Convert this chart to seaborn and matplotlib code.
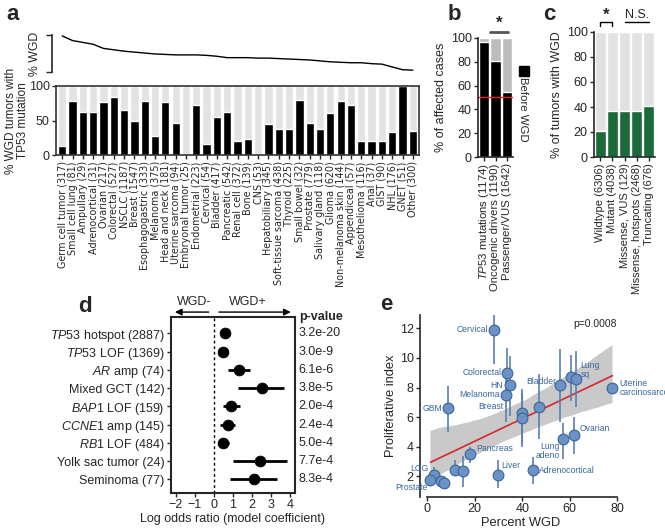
import matplotlib
matplotlib.use("Agg")
import matplotlib.pyplot as plt
import numpy as np
import pandas as pd
import seaborn as sns

# ---- panel a: TP53 mutation rate in WGD tumors, sorted by % WGD
tumor_types = ["Germ cell tumor (317)", "Small cell lung (81)", "Ampullary (29)", "Adrenocortical (31)",
               "Ovarian (217)", "Colorectal (527)", "NSCLC (1187)", "Breast (1547)", "Esophagogastric (333)",
               "Melanoma (375)", "Head and neck (181)", "Uterine sarcoma (94)", "Embryonal tumor (25)",
               "Endometrial (223)", "Cervical (54)", "Bladder (417)", "Pancreatic (542)", "Renal cell (372)",
               "Bone (139)", "CNS (53)", "Hepatobiliary (345)", "Soft-tissue sarcoma (438)", "Thyroid (225)",
               "Small bowel (32)", "Prostate (779)", "Salivary gland (118)", "Glioma (620)",
               "Non-melanoma skin (144)", "Appendiceal (57)", "Mesothelioma (116)", "Anal (37)", "GIST (90)",
               "NHL (176)", "GNET (51)", "Other (300)"]
wgd_pct = [78, 68, 64, 60, 51, 48, 45, 43, 41, 39, 38, 37, 37, 37, 36, 34, 31, 31, 31, 30,
           30, 29, 28, 27, 26, 24, 22, 21, 20, 20, 18, 17, 11, 5, 4]
tp53_in_wgd = [13, 78, 63, 63, 77, 84, 65, 50, 78, 27, 77, 47, 0, 73, 16, 55, 63, 20, 23, 0,
               45, 37, 37, 80, 46, 38, 61, 78, 72, 20, 21, 20, 34, 100, 35]

# ---- panel b: timing of mutations relative to WGD
b_labels = [r"$\it{TP53}$ mutations (1174)", "Oncogenic drivers (1190)", "Passenger/VUS (1642)"]
b_before = [97, 81, 55]

# ---- panel c: WGD rate by TP53 status
c_labels = ["Wildtype (6306)", "Mutant (4038)", "Missense, VUS (129)",
            "Missense, hotspots (2468)", "Truncating (676)"]
c_wgd = [21, 37, 36.5, 37, 40.5]

# ---- panel d: regression coefficients
d_labels = [r"$\it{TP53}$ hotspot (2887)", r"$\it{TP53}$ LOF (1369)", r"$\it{AR}$ amp (74)",
            "Mixed GCT (142)", r"$\it{BAP1}$ LOF (159)", r"$\it{CCNE1}$ amp (145)",
            r"$\it{RB1}$ LOF (484)", "Yolk sac tumor (24)", "Seminoma (77)"]
d_coef = [0.6, 0.46, 1.33, 2.53, 0.91, 0.74, 0.47, 2.44, 2.12]
d_lo = [0.52, 0.38, 0.74, 1.3, 0.5, 0.33, 0.3, 1.0, 0.86]
d_hi = [0.68, 0.54, 1.91, 3.7, 1.39, 1.14, 0.79, 3.88, 3.35]
d_pvals = ["3.2e-20", "3.0e-9", "6.1e-6", "3.8e-5", "2.0e-4", "2.4e-4", "5.0e-4", "7.7e-4", "8.3e-4"]

# ---- panel e: proliferation vs WGD per tumor type
e_names = ["Cervical", "Colorectal", "HN", "Melanoma", "GBM", "Breast", "", "", "Bladder", "",
           "Lung\nsq", "Uterine\ncarcinosarcoma", "Ovarian", "Lung\nadeno", "Adrenocortical", "Liver",
           "Pancreas", "", "", "LGG", "Prostate", "", ""]
e_wgd = [28, 33.6, 35, 33, 8.7, 40, 40, 47, 56, 60.4, 62.5, 78, 62, 57.3, 44.5, 29.7, 18.2, 11.6, 15.1,
         2.8, 1.4, 6, 7]
e_prolif = [11.9, 9.0, 8.15, 7.5, 6.6, 6.3, 5.95, 6.7, 8.15, 8.7, 8.6, 8.0, 4.8, 4.5, 2.4, 2.1, 3.5,
            2.4, 2.35, 2.1, 1.75, 1.7, 1.55]
e_lo = [9.6, 7.1, 6.1, 5.7, 5.0, 4.2, 4.0, 4.5, 5.7, 7.1, 6.7, 7.9, 3.5, 3.2, 1.5, 1.2, 2.9, 2.0, 1.3,
        1.7, 1.5, 1.4, 1.2]
e_hi = [13.5, 10.7, 10.1, 8.6, 8.1, 7.9, 7.6, 8.9, 10.6, 10.2, 10.5, 8.1, 6.0, 5.6, 3.3, 3.1, 4.0, 3.1,
        3.4, 2.6, 2.0, 2.0, 1.9]

# label placement for panel e (offset from point, alignment)
e_label_pos = {"Cervical": (-2.4, 0, "right"), "Colorectal": (-2.1, 0, "right"), "HN": (-3.1, 0, "right"),
               "Melanoma": (-2.5, 0, "right"), "GBM": (-2.3, 0, "right"), "Breast": (-8.1, 0.4, "right"),
               "Bladder": (-1.5, 0.25, "right"), "Lung\nsq": (2.1, 0.6, "left"),
               "Uterine\ncarcinosarcoma": (2.8, 0, "left"), "Ovarian": (2.3, 0.45, "left"),
               "Lung\nadeno": (-1.6, -0.8, "right"), "Adrenocortical": (2.6, 0, "left"),
               "Liver": (1.5, 0.6, "left"), "Pancreas": (2.5, 0.4, "left"), "LGG": (-2.1, 0.4, "right"),
               "Prostate": (-1.1, -0.5, "right")}

sns.set_theme(style="ticks")
plt.rcParams['font.family'] = ['Liberation Sans', 'DejaVu Sans']
plt.rcParams['mathtext.fontset'] = 'custom'
plt.rcParams['mathtext.rm'] = 'Liberation Sans'
plt.rcParams['mathtext.it'] = 'Liberation Sans:italic'
plt.rcParams['axes.linewidth'] = 1.2
plt.rcParams['xtick.major.width'] = 1.0
plt.rcParams['ytick.major.width'] = 1.0
plt.rcParams['xtick.major.size'] = 3
plt.rcParams['ytick.major.size'] = 3
plt.rcParams['xtick.major.pad'] = 1.5
plt.rcParams['ytick.major.pad'] = 1.5

W, H = 665, 529
fig = plt.figure(figsize=(W / 100, H / 100), dpi=100)


def px_axes(left, top, right, bottom):
    return fig.add_axes([left / W, 1 - bottom / H, (right - left) / W, (bottom - top) / H])


def letter(x, y, s):
    fig.text(x / W, 1 - y / H, s, fontsize=16, fontweight='bold', ha='left', va='center')


TICK = 9

# ---------------- panel a
ax_line = px_axes(56, 35, 419, 72)
ax_bar = px_axes(56, 86, 419, 155)
xpos = np.arange(len(tumor_types))

sns.lineplot(x=xpos, y=wgd_pct, color='black', lw=1, ax=ax_line)
ax_line.set_xlim(-0.6, len(tumor_types) - 0.4)
ax_line.set_ylim(0, 80)
for s in ['top', 'right', 'bottom']:
    ax_line.spines[s].set_visible(False)
ax_line.spines['left'].set_position(('outward', 3))
ax_line.set_xticks([])
ax_line.set_yticks([0, 80])
ax_line.set_yticklabels([])
ax_line.tick_params(axis='y', length=4)
ax_line.set_ylabel("% WGD", fontsize=8.8, labelpad=2)

a_df = pd.DataFrame({"tumor": tumor_types, "tp53": tp53_in_wgd, "full": 100})
sns.barplot(data=a_df, x="tumor", y="full", color="#e3e3e3", saturation=1, width=0.8,
            errorbar=None, ax=ax_bar)
sns.barplot(data=a_df, x="tumor", y="tp53", color="black", saturation=1, width=0.8,
            errorbar=None, ax=ax_bar)
ax_bar.set_xlim(-0.6, len(tumor_types) - 0.4)
ax_bar.set_ylim(0, 100)
ax_bar.set_yticks([0, 50, 100])
ax_bar.tick_params(axis='y', labelsize=TICK)
ax_bar.tick_params(axis='x', rotation=90)
for lab in ax_bar.get_xticklabels():
    lab.set_fontfamily('DejaVu Sans')
    lab.set_fontsize(6.9)
ax_bar.set_xlabel("")
ax_bar.set_ylabel("% WGD tumors with\nTP53 mutation", fontsize=8.5, va='center', linespacing=1.0)
ax_bar.yaxis.set_label_coords(-0.108, 0.5)
for s in ax_bar.spines.values():
    s.set_color('#333333')
letter(6, 14, "a")

# ---------------- panel b
ax_b = px_axes(478, 38, 513, 157)
b_df = pd.DataFrame({"kind": b_labels, "before": b_before, "full": 100})
sns.barplot(data=b_df, x="kind", y="full", color="#bdbdbd", saturation=1, width=0.88,
            errorbar=None, ax=ax_b)
sns.barplot(data=b_df, x="kind", y="before", color="black", saturation=1, width=0.88,
            errorbar=None, ax=ax_b)
ax_b.axhline(50, color='#e8202a', lw=1)
ax_b.set_ylim(0, 100)
ax_b.set_xlim(-0.5, 2.5)
ax_b.set_yticks(range(0, 101, 20))
ax_b.tick_params(axis='y', labelsize=TICK)
ax_b.tick_params(axis='x', labelsize=8.2, rotation=90)
ax_b.set_xlabel("")
ax_b.set_ylabel("% of affected cases", fontsize=TICK, labelpad=3)
sns.despine(ax=ax_b)
ax_b.plot([0.55, 2.05], [105, 105], color='#555555', lw=2, clip_on=False)
ax_b.text(1.3, 106, "*", ha='center', va='bottom', fontsize=12, fontweight='bold')
ax_b.plot([1.3], [0.72], marker='s', ms=7, color='black', transform=ax_b.transAxes, clip_on=False)
ax_b.text(1.3, 0.67, "Before WGD", rotation=-90, ha='center', va='top', fontsize=8.2,
          transform=ax_b.transAxes)
letter(448, 14, "b")

# ---------------- panel c
ax_c = px_axes(594, 32, 655, 157)
c_df = pd.DataFrame({"status": c_labels, "wgd": c_wgd, "full": 100})
sns.barplot(data=c_df, x="status", y="full", color="#e2e2e2", saturation=1, width=0.9,
            errorbar=None, ax=ax_c)
sns.barplot(data=c_df, x="status", y="wgd", color="#1b6b3a", saturation=1, width=0.9,
            errorbar=None, ax=ax_c)
ax_c.set_ylim(0, 100)
ax_c.set_xlim(-0.5, 4.5)
ax_c.set_yticks(range(0, 101, 20))
ax_c.tick_params(axis='y', labelsize=TICK)
ax_c.tick_params(axis='x', labelsize=8.0, rotation=90)
ax_c.set_xlabel("")
ax_c.set_ylabel("% of tumors with WGD", fontsize=TICK, labelpad=3)
sns.despine(ax=ax_c)
ax_c.plot([0, 0, 1, 1], [104.5, 108, 108, 104.5], color='black', lw=1, clip_on=False)
ax_c.text(0.5, 107, "*", ha='center', va='bottom', fontsize=12, fontweight='bold')
ax_c.plot([2, 4], [108, 108], color='black', lw=1, clip_on=False)
ax_c.text(3, 109, "N.S.", ha='center', va='bottom', fontsize=TICK)
letter(543, 14, "c")

# ---------------- panel d
ax_d = px_axes(171, 317, 295, 493)
ypos = np.arange(len(d_labels))
ax_d.hlines(ypos, d_lo, d_hi, color='black', lw=2)
sns.scatterplot(x=d_coef, y=ypos, color='black', s=60, edgecolor='black', ax=ax_d, zorder=3)
ax_d.axvline(0, color='black', lw=1, ls=(0, (2, 2)))
ax_d.set_xlim(-2.26, 4.28)
ax_d.set_ylim(len(d_labels) - 0.25, -0.9)
ax_d.set_yticks(ypos)
ax_d.set_yticklabels(d_labels, fontsize=TICK)
ax_d.set_xticks(range(-2, 5))
ax_d.tick_params(axis='x', labelsize=TICK)
ax_d.set_xlabel("Log odds ratio (model coefficient)", fontsize=TICK, labelpad=1)
for s in ax_d.spines.values():
    s.set_linewidth(1.5)
for yv, pv in zip(ypos, d_pvals):
    ax_d.text(1.03, yv, pv, transform=ax_d.get_yaxis_transform(), va='center', ha='left', fontsize=TICK)
ax_d.text(1.03, 1.0, "p-value", transform=ax_d.transAxes, va='center', ha='left', fontsize=TICK,
          fontweight='bold')
ax_d.annotate("", xy=(-2.2, 1.028), xytext=(-0.12, 1.028), xycoords=ax_d.get_xaxis_transform(),
              arrowprops=dict(arrowstyle='-|>', color='black', lw=1, mutation_scale=10))
ax_d.annotate("", xy=(4.2, 1.028), xytext=(0.12, 1.028), xycoords=ax_d.get_xaxis_transform(),
              arrowprops=dict(arrowstyle='-|>', color='black', lw=1, mutation_scale=10))
ax_d.text(-1.06, 1.085, "WGD-", transform=ax_d.get_xaxis_transform(), ha='center', va='center',
          fontsize=TICK)
ax_d.text(1.8, 1.085, "WGD+", transform=ax_d.get_xaxis_transform(), ha='center', va='center',
          fontsize=TICK)
letter(78, 306, "d")

# ---------------- panel e
ax_e = px_axes(420, 315, 622, 497)
blue_pt = "#6a92c4"
blue_edge = "#3d6396"
blue_txt = "#3a679e"
sns.regplot(x=e_wgd, y=e_prolif, scatter=False, ci=95, n_boot=1000, seed=3, color='0.5',
            line_kws={'color': '#d7262e', 'lw': 1.2, 'zorder': 3}, ax=ax_e)
for coll in ax_e.collections:
    coll.set_facecolor('#c9c9c9')
    coll.set_alpha(1)
    coll.set_edgecolor('none')
ax_e.vlines(e_wgd, e_lo, e_hi, color='#5b80b2', lw=1.2, zorder=4)
sns.scatterplot(x=e_wgd, y=e_prolif, s=60, color=blue_pt, edgecolor=blue_edge, linewidth=0.8,
                ax=ax_e, zorder=5)
for name, xv, yv in zip(e_names, e_wgd, e_prolif):
    if name in e_label_pos:
        dx, dy, ha = e_label_pos[name]
        ax_e.text(xv + dx, yv + dy, name, ha=ha, va='center', fontsize=6.2, color=blue_txt,
                  multialignment=ha, linespacing=1.0, zorder=6)
ax_e.text(80, 12.3, "p=0.0008", ha='right', va='center', fontsize=7.5)
ax_e.set_xlim(-3, 82)
ax_e.set_ylim(0.6, 12.9)
ax_e.set_xticks(range(0, 81, 20))
ax_e.set_yticks(range(2, 13, 2))
ax_e.tick_params(labelsize=TICK)
ax_e.set_xlabel("Percent WGD", fontsize=9.3, labelpad=1)
ax_e.set_ylabel("Proliferative index", fontsize=9.3, labelpad=2)
sns.despine(ax=ax_e)
ax_e.spines['bottom'].set_bounds(0, 80)
letter(380, 305, "e")

fig.savefig("out.png", dpi=100)
